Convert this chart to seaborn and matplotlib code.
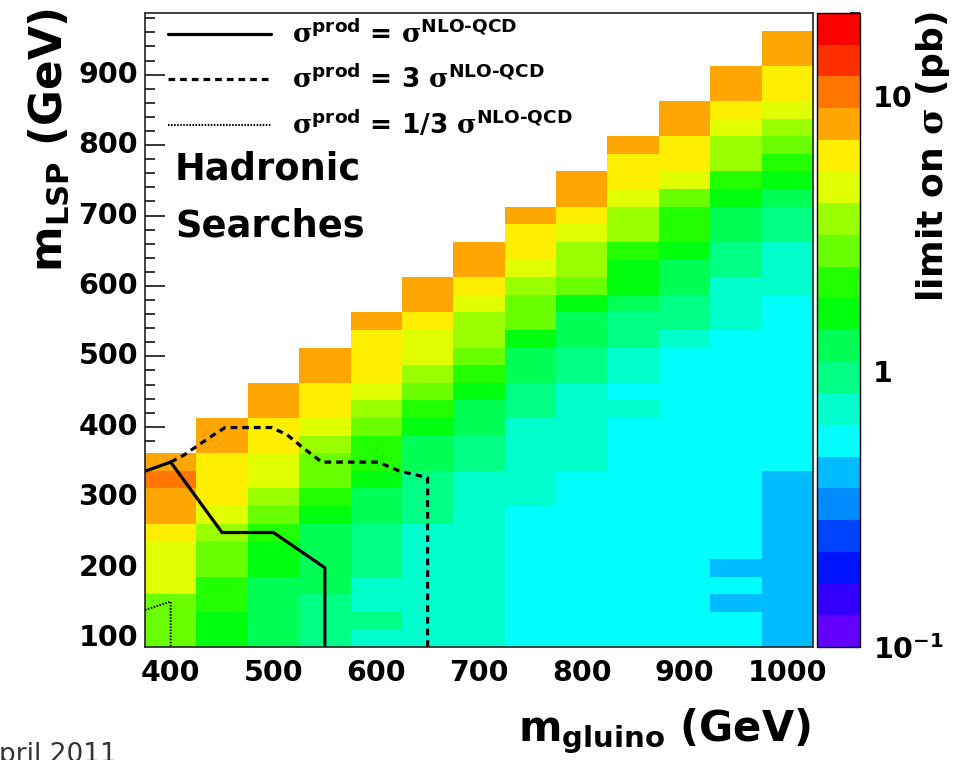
import numpy as np
import pandas as pd
import seaborn as sns
import matplotlib.pyplot as plt
from matplotlib.colors import ListedColormap, LogNorm
from matplotlib.lines import Line2D
from matplotlib.ticker import LogLocator, NullFormatter

# grid of the scan
gluino_mass = [400, 450, 500, 550, 600, 650, 700, 750, 800, 850, 900, 950, 1000]
lsp_mass = list(range(100, 1000, 25))

# limit on sigma (pb), per gluino column, from m_LSP = 100 upwards to m_gluino - 50
lim_400 = [2.7, 2.8, 2.9, 4.5, 4.7, 4.9, 6.2, 7.6, 8.1, 10.2, 7.9]
lim_450 = [1.6, 1.7, 2.0, 2.2, 2.6, 2.9, 3.6, 4.6, 5.8, 6.0, 6.3, 7.5, 8.0]
lim_500 = [1.2, 1.25, 1.3, 1.35, 1.5, 1.7, 2.2, 2.8, 3.5, 4.4, 4.9, 5.9, 6.4, 7.6, 8.2]
lim_550 = [0.9, 0.95, 1.0, 1.15, 1.2, 1.25, 1.3, 1.6, 2.1, 2.6, 2.9, 3.7, 4.6, 6.0,
           6.4, 7.7, 8.3]
lim_600 = [0.75, 0.95, 0.78, 0.8, 0.9, 1.0, 1.05, 1.2, 1.35, 1.6, 2.0, 2.3, 2.8, 3.7,
           4.8, 5.8, 6.2, 6.6, 7.8]
lim_650 = [0.7, 0.72, 0.74, 0.76, 0.78, 0.8, 0.81, 0.88, 0.93, 1.0, 1.2, 1.3, 1.6, 2.2,
           2.8, 3.6, 4.5, 4.9, 6.2, 7.7, 8.3]
lim_700 = [0.66, 0.67, 0.68, 0.69, 0.7, 0.71, 0.72, 0.74, 0.76, 0.78, 0.88, 0.95, 1.2,
           1.3, 1.6, 2.1, 2.7, 3.5, 3.8, 4.8, 6.3, 7.6, 8.2]
lim_750 = [0.55, 0.56, 0.57, 0.58, 0.59, 0.6, 0.61, 0.62, 0.68, 0.7, 0.73, 0.76, 0.8,
           0.9, 0.95, 1.2, 1.3, 1.6, 2.7, 2.9, 3.6, 4.7, 6.0, 6.5, 7.8]
lim_800 = [0.52, 0.53, 0.54, 0.55, 0.56, 0.57, 0.58, 0.59, 0.6, 0.62, 0.68, 0.7, 0.72,
           0.75, 0.8, 0.9, 0.98, 1.2, 1.35, 1.6, 2.8, 3.5, 3.8, 4.7, 6.2, 7.6, 8.2]
lim_850 = [0.52, 0.53, 0.53, 0.54, 0.55, 0.55, 0.56, 0.57, 0.58, 0.59, 0.6, 0.61, 0.62,
           0.7, 0.6, 0.72, 0.76, 0.9, 0.95, 1.2, 1.55, 1.7, 2.1, 3.5, 3.8, 4.6, 6.0,
           6.5, 7.7]
lim_900 = [0.52, 0.52, 0.53, 0.53, 0.54, 0.54, 0.55, 0.55, 0.56, 0.56, 0.57, 0.58,
           0.58, 0.59, 0.6, 0.61, 0.62, 0.75, 0.9, 0.95, 1.25, 1.35, 1.6, 2.1, 2.3,
           2.7, 4.6, 6.0, 6.5, 7.6, 8.2]
lim_950 = [0.55, 0.56, 0.45, 0.54, 0.46, 0.53, 0.54, 0.54, 0.55, 0.55, 0.56, 0.56,
           0.57, 0.58, 0.58, 0.59, 0.6, 0.62, 0.7, 0.75, 0.8, 0.9, 1.0, 1.2, 1.3, 1.6,
           2.2, 3.5, 3.8, 4.7, 6.2, 7.6, 8.1]
lim_1000 = [0.42, 0.42, 0.43, 0.43, 0.44, 0.44, 0.45, 0.45, 0.46, 0.47, 0.52, 0.53,
            0.54, 0.55, 0.56, 0.57, 0.58, 0.59, 0.6, 0.62, 0.7, 0.75, 0.8, 0.95, 1.0,
            1.25, 1.6, 2.1, 2.8, 3.6, 4.7, 6.1, 6.5, 7.7, 8.3]

limits = [lim_400, lim_450, lim_500, lim_550, lim_600, lim_650, lim_700,
          lim_750, lim_800, lim_850, lim_900, lim_950, lim_1000]

# exclusion contours (GeV)
nlo_x = [375, 400, 450, 500, 550, 550]
nlo_y = [337, 350, 250, 250, 200, 80]
nlo3_x = [400, 413, 425, 439, 453, 498, 513, 529, 547, 602, 623, 650, 650]
nlo3_y = [350, 360, 372, 386, 399, 399, 389, 370, 350, 350, 337, 328, 80]
nlo13_x = [375, 400, 400]
nlo13_y = [140, 152, 80]

# ROOT "pretty" palette, 20 contour levels
palette = ["#6300ff", "#3300ff", "#0014ff", "#0044ff", "#008bff", "#00bbff",
           "#00fffc", "#00ffcc", "#00ff85", "#00ff55", "#00ff0e", "#22ff00",
           "#69ff00", "#99ff00", "#e0ff00", "#ffee00", "#ffa700", "#ff7700",
           "#ff3000", "#ff0000"]

grid = pd.DataFrame(np.nan, index=lsp_mass, columns=gluino_mass)
for g, vals in zip(gluino_mass, limits):
    assert len(vals) == (g - 150) // 25 + 1, g
    grid.loc[lsp_mass[:len(vals)], g] = vals

sns.set_style("white")
plt.rcParams['font.family'] = ['DejaVu Sans']
plt.rcParams['font.weight'] = 'bold'
plt.rcParams['text.color'] = 'black'
plt.rcParams['axes.labelcolor'] = 'black'
plt.rcParams['xtick.color'] = 'black'
plt.rcParams['ytick.color'] = 'black'
plt.rcParams['mathtext.fontset'] = 'custom'
plt.rcParams['mathtext.rm'] = 'DejaVu Serif'
plt.rcParams['mathtext.it'] = 'DejaVu Serif:italic'
plt.rcParams['mathtext.bf'] = 'DejaVu Sans:bold'
plt.rcParams['mathtext.default'] = 'bf'
plt.rcParams['lines.scale_dashes'] = False


def gx(v):
    return (np.asarray(v, dtype=float) - 375) / 50


def gy(v):
    return (np.asarray(v, dtype=float) - 87.5) / 25


fig = plt.figure(figsize=(9.71, 7.6), dpi=100)
ax = fig.add_axes([0.1493, 0.1487, 0.688, 0.8342])
cax = fig.add_axes([0.8414, 0.1487, 0.0443, 0.8342])

sns.heatmap(grid, ax=ax, cbar_ax=cax, cmap=ListedColormap(palette),
            norm=LogNorm(0.1, 20), linewidths=0)
ax.invert_yaxis()
ax.set_xlim(0, len(gluino_mass))
ax.set_ylim(0, len(lsp_mass))
ax.set_xlabel('')
ax.set_ylabel('')
for sp in ax.spines.values():
    sp.set_visible(True)
    sp.set_color('#222222')
    sp.set_linewidth(1.2)

# ticks
xmaj = [400, 500, 600, 700, 800, 900, 1000]
ymaj = [100, 200, 300, 400, 500, 600, 700, 800, 900]
ax.set_xticks(gx(xmaj), [str(v) for v in xmaj], rotation=0)
ax.set_xticks(gx(np.arange(380, 1025, 20)), minor=True)
ax.set_yticks(gy(ymaj), [str(v) for v in ymaj], rotation=0)
ax.set_yticks(gy(np.arange(100, 990, 20)), minor=True)
ax.tick_params(axis='both', which='both', direction='in', top=False, right=False,
               bottom=True, left=True, labelsize=20.5, width=1.1, color='black')
ax.tick_params(axis='x', which='major', length=13, pad=9)
ax.tick_params(axis='x', which='minor', length=6.5)
ax.tick_params(axis='y', which='major', length=14.5, pad=5)
ax.tick_params(axis='y', which='minor', length=7)

# contours
ax.plot(gx(nlo_x), gy(nlo_y), color='black', lw=2.3, solid_joinstyle='miter')
ax.plot(gx(nlo3_x), gy(nlo3_y), color='black', lw=2.3, dashes=(4.8, 3.6))
ax.plot(gx(nlo13_x), gy(nlo13_y), color='black', lw=1.5, dashes=(1.1, 1.1))

handles = [Line2D([], [], color='black', lw=2.3),
           Line2D([], [], color='black', lw=2.3, dashes=(4.8, 3.6)),
           Line2D([], [], color='black', lw=1.5, dashes=(1.1, 1.1))]
labels = [r'$\mathrm{\sigma}^{prod}$ = $\mathrm{\sigma}^{NLO‐QCD}$',
          r'$\mathrm{\sigma}^{prod}$ = 3 $\mathrm{\sigma}^{NLO‐QCD}$',
          r'$\mathrm{\sigma}^{prod}$ = 1/3 $\mathrm{\sigma}^{NLO‐QCD}$']
ax.legend(handles, labels, loc='upper left', bbox_to_anchor=(0.022, 1.0),
          frameon=False, fontsize=19, handlelength=3.9, handletextpad=0.8,
          labelspacing=0.6, borderaxespad=0, borderpad=0.3)

ax.text(0.045, 0.7366, 'Hadronic', transform=ax.transAxes, fontsize=26.5,
        va='baseline', ha='left')
ax.text(0.045, 0.647, 'Searches', transform=ax.transAxes, fontsize=26.5,
        va='baseline', ha='left')

# colorbar
cb = ax.collections[0].colorbar
cb.outline.set_edgecolor('black')
cb.outline.set_linewidth(1.0)
cb.set_ticks([0.1, 1, 10], labels=[r'$10^{-1}$', '1', '10'])
cax.yaxis.set_minor_locator(LogLocator(base=10, subs=np.arange(2, 10)))
cax.yaxis.set_minor_formatter(NullFormatter())
cax.tick_params(which='both', direction='in', right=True, left=False,
                labelsize=20.5, width=1.1, pad=9)
cax.tick_params(which='major', length=14.5)
cax.tick_params(which='minor', length=7)

fig.text(0.961, 0.985, r'limit on $\mathrm{\sigma}$ (pb)', rotation=90,
         ha='center', va='top', fontsize=26)
fig.text(0.05, 0.99, r'$m_{LSP}$ (GeV)', rotation=90, ha='center', va='top',
         fontsize=31.5)
fig.text(0.835, 0.038, r'$m_{gluino}$ (GeV)', ha='right', va='center', fontsize=30)
fig.text(-0.02, -0.01, 'April 2011', ha='left', va='bottom', fontsize=19,
         fontweight='normal', color='#333333')

fig.savefig('out.png', dpi=100)
